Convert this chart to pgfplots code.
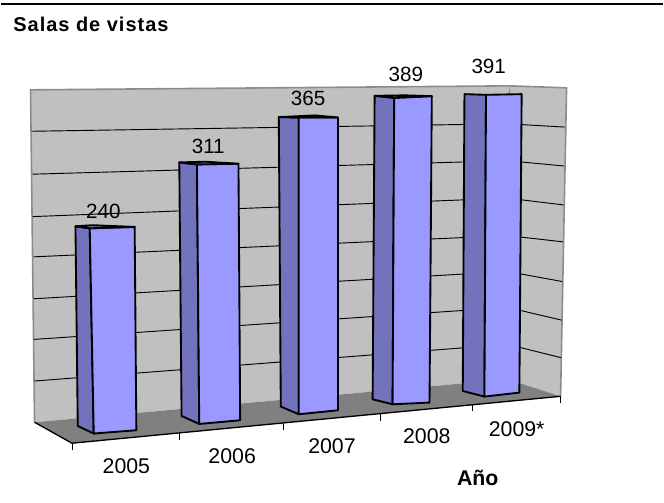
\documentclass[border=0pt]{standalone}
\usepackage{pgfplots}
\pgfplotsset{compat=1.18}
\usepackage{fontspec}
\setmainfont{Liberation Sans}
\newfontfamily\titlefont[LetterSpace=5,BoldFont={Liberation Sans Bold}]{Liberation Sans}
\definecolor{wall}{HTML}{C0C0C0}
\definecolor{floorc}{HTML}{808080}
\definecolor{edge}{HTML}{8C8C8C}
\definecolor{front}{HTML}{9999FF}
\definecolor{side}{HTML}{7373BD}

\pgfplotsset{
  face/.style={draw=black, line width=1.4pt, line join=round, mark=none},
  gridl/.style={draw=black, line width=0.7pt, mark=none},
  tickl/.style={draw=black, line width=0.6pt, mark=none},
  txt/.style={draw=none, mark=none, nodes near coords, nodes near coords align={center},
    point meta=explicit symbolic},
}

\begin{document}
\begin{tikzpicture}
\begin{axis}[
  scale only axis, width=498pt, height=377.25pt,
  xmin=0, xmax=664, ymin=0, ymax=503, y dir=reverse,
  hide axis, clip=false,
]
% page line
\addplot[draw=black, line width=0.9pt, mark=none] coordinates {(0,4) (664,4)};

% walls and floor
\addplot[fill=wall, draw=none] coordinates {(30,90) (510,86) (508,380) (34,423)} -- cycle;
\addplot[fill=wall, draw=none] coordinates {(510,86) (567,88) (561,397) (508,380)} -- cycle;
\addplot[fill=floorc, draw=none] coordinates {(34,423) (508,380) (561,397) (71.5,444)} -- cycle;

\addplot[draw=edge, line width=1.2pt, mark=none] coordinates {(34,423) (30,90) (510,86) (567,88) (561,397)};
\addplot[draw=edge, line width=0.6pt, mark=none] coordinates {(510,86) (508,380)};
\addplot[draw=black, line width=1pt, mark=none] coordinates {(34,423) (71.5,444) (561,397)};

% gridlines, back wall then side wall
\addplot[gridl] coordinates {(31,131.5) (508,124) (565,127.3)};
\addplot[gridl] coordinates {(32,174.5) (508,161) (564.5,166.3)};
\addplot[gridl] coordinates {(32,217) (508,198.5) (564,205.3)};
\addplot[gridl] coordinates {(33,257.3) (508,236) (563.6,242.3)};
\addplot[gridl] coordinates {(33,299.3) (508,272) (562.5,282)};
\addplot[gridl] coordinates {(33.5,340) (508,308) (562,320.7)};
\addplot[gridl] coordinates {(34,381.7) (508,345) (561.5,358.3)};

% ticks under the front edge
\addplot[tickl] coordinates {(71.5,444) (71.5,451)};
\addplot[tickl] coordinates {(179.3,434) (179.3,441)};
\addplot[tickl] coordinates {(283,424) (283,431)};
\addplot[tickl] coordinates {(380.7,415) (380.7,422)};
\addplot[tickl] coordinates {(472.7,405) (472.7,412)};
\addplot[tickl] coordinates {(560.7,397) (560.7,404)};

% 2005
\addplot[face, fill=side] coordinates {(75,226.7) (89.3,228.7) (93.3,434.3) (77.3,426.7)} -- cycle;
\addplot[face, fill=front] coordinates {(89.3,228.7) (134.3,227.3) (136,431) (93.3,434.3)} -- cycle;
\addplot[face, fill=side] coordinates {(75,226.7) (92,225.6) (134.3,227.3) (89.3,228.7)} -- cycle;
% 2006
\addplot[face, fill=side] coordinates {(179,162.7) (196.7,164.7) (199,424.7) (181.3,416.7)} -- cycle;
\addplot[face, fill=front] coordinates {(196.7,164.7) (238.3,164) (240,421) (199,424.7)} -- cycle;
\addplot[face, fill=side] coordinates {(179,162.7) (205,162) (238.3,164) (196.7,164.7)} -- cycle;
% 2007
\addplot[face, fill=side] coordinates {(278.7,117.3) (298.7,117.7) (298.7,415) (280.7,407.3)} -- cycle;
\addplot[face, fill=front] coordinates {(298.7,117.7) (338,117.7) (338,411) (298.7,415)} -- cycle;
\addplot[face, fill=side] coordinates {(278.7,117.3) (315,115.6) (338,117.7) (298.7,117.7)} -- cycle;
% 2008
\addplot[face, fill=side] coordinates {(374.7,96) (394.3,98) (392.7,405) (372.7,400)} -- cycle;
\addplot[face, fill=front] coordinates {(394.3,98) (432,96.3) (429.7,403.3) (392.7,405)} -- cycle;
\addplot[face, fill=side] coordinates {(374.7,96) (405,95.5) (432,96.3) (394.3,98)} -- cycle;
% 2009*
\addplot[face, fill=side] coordinates {(464.7,94.3) (486.3,95) (484.7,397.3) (463,391.7)} -- cycle;
\addplot[face, fill=front] coordinates {(486.3,95) (522,94.3) (519.7,393.3) (484.7,397.3)} -- cycle;

% value labels
\addplot[txt, nodes near coords style={font=\fontsize{15.5}{18}\selectfont, text=black, anchor=center, inner sep=0pt}]
  table[x=x, y=y, meta=v] {
x y v
103 211.5 240
208 147 311
308 99 365
406 75 389
489 67 391
};
% category labels
\addplot[txt, nodes near coords style={font=\fontsize{16}{18}\selectfont, text=black, anchor=center, inner sep=0pt}]
  table[x=x, y=y, meta=v] {
x y v
126 467 2005
232 457 2006
332 447 2007
427 437 2008
517 430 2009*
};
% titles
\addplot[txt, nodes near coords style={font=\titlefont\bfseries\fontsize{15}{18}\selectfont, text=black, anchor=center, inner sep=0pt}]
  table[x=x, y=y, meta=v] {
x y v
90.5 24 {Salas de vistas}
};
\addplot[txt, nodes near coords style={font=\bfseries\fontsize{16}{18}\selectfont, text=black, anchor=center, inner sep=0pt}]
  table[x=x, y=y, meta=v] {
x y v
478 479 Año
};
\end{axis}
\useasboundingbox (current axis.south west) rectangle (current axis.north east);
\end{tikzpicture}
\end{document}
